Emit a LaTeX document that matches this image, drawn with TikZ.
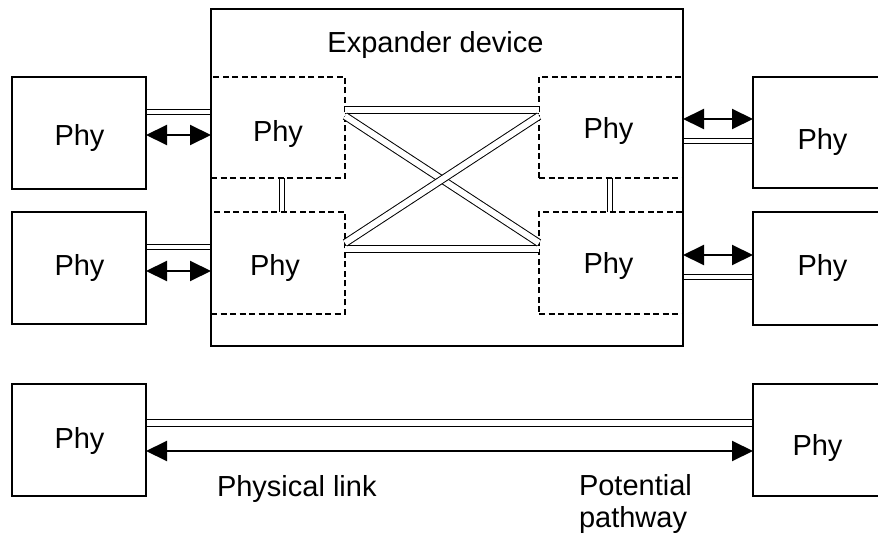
\documentclass[tikz,border=0pt]{standalone}
\usepackage{fontspec}
\setmainfont{Liberation Sans}
\usetikzlibrary{arrows.meta}
\pgfdeclarelayer{background}
\pgfsetlayers{background,main}
\begin{document}
\begin{tikzpicture}[x=1pt,y=-1pt,
  every node/.style={font=\fontsize{29}{33}\selectfont},
  phybox/.style={draw, line width=2pt, minimum width=134pt, minimum height=112pt, inner sep=0pt, outer sep=0pt},
  portbox/.style={draw, line width=2pt, dash pattern=on 6pt off 3.5pt, minimum width=#1, inner sep=0pt, outer sep=0pt},
  devbox/.style={draw, line width=2pt, minimum width=472pt, minimum height=337pt, inner sep=0pt, outer sep=0pt},
  txt/.style={inner sep=0pt, outer sep=0pt},
  dbl/.style={draw, line width=1pt, double=white, double distance=4pt},
  dblwide/.style={draw, line width=1pt, double=white, double distance=6pt},
  arr/.style={line width=2pt, {Triangle[length=21pt,width=20pt]}-{Triangle[length=21pt,width=20pt]}}
]
\clip (0,0) rectangle (878,537);

% expander device
\node[devbox] (E) at (447,177.5) {};
\node[txt, anchor=base] (title) at (435.5,53) {Expander device};

% phys inside expander
\node[portbox=134pt, minimum height=101pt, label={[xshift=0pt,yshift=-6.5pt]center:Phy}] (D1) at (278,127.5) {};
\node[portbox=134pt, minimum height=102pt, label={[xshift=-3pt,yshift=-5pt]center:Phy}] (D2) at (278,263) {};
\node[portbox=144pt, minimum height=101pt, label={[xshift=-2.5pt,yshift=-3.5pt]center:Phy}] (D3) at (611,127.5) {};
\node[portbox=144pt, minimum height=102pt, label={[xshift=-2.5pt,yshift=-3pt]center:Phy}] (D4) at (611,263) {};

% outer phys
\node[phybox, label={[xshift=0.5pt,yshift=-5pt]center:Phy}] (L1) at (79,133) {};
\node[phybox, label={[xshift=0.5pt,yshift=0pt]center:Phy}] (L2) at (79,268) {};
\node[phybox, minimum height=111pt, label={[xshift=2.5pt,yshift=-9.5pt]center:Phy}] (R1) at (820,132.5) {};
\node[phybox, minimum height=113pt, label={[xshift=2.5pt,yshift=0.5pt]center:Phy}] (R2) at (820,268.5) {};

% bottom legend phys
\node[phybox, label={[xshift=0.5pt,yshift=-1pt]center:Phy}] (B1) at (79,440) {};
\node[phybox, label={[xshift=-2.5pt,yshift=-8pt]center:Phy}] (B2) at (820,440) {};

% links to outer phys (behind the boxes)
\begin{pgfonlayer}{background}
\fill[white] (0,0) rectangle (878,537);
\draw[dbl] (L1.east |- 0,112) -- (D1.west |- 0,112);
\draw[dbl] (L2.east |- 0,247) -- (D2.west |- 0,247);
\draw[dbl] (D3.east |- 0,141) -- (R1.west |- 0,141);
\draw[dbl] (D4.east |- 0,277) -- (R2.west |- 0,277);
\draw[dbl] (D1.south -| 281.5,0) -- (D2.north -| 281.5,0);
\draw[dbl] (D3.south -| 609.5,0) -- (D4.north -| 609.5,0);
\draw[dblwide] (B1.east |- 0,423) -- (B2.west |- 0,423);
\end{pgfonlayer}

\draw[arr] (L1.east |- 0,135) -- (D1.west |- 0,135);
\draw[arr] (L2.east |- 0,271) -- (D2.west |- 0,271);
\draw[arr] (D3.east |- 0,119) -- (R1.west |- 0,119);
\draw[arr] (D4.east |- 0,255) -- (R2.west |- 0,255);

% internal crossbar
\draw[dblwide] (D1.east |- 0,110.5) -- (D3.west |- 0,110.5);
\draw[dblwide] (D2.east |- 0,249.5) -- (D4.west |- 0,249.5);
\draw[dblwide] (D1.east |- 0,116) -- (D4.west |- 0,243);
\draw[dblwide] (D2.east |- 0,243) -- (D3.west |- 0,116);

% legend
\draw[arr] (B1.east |- 0,451) -- (B2.west |- 0,451);
\node[txt, anchor=base west] (plink) at (217,496) {Physical link};
\node[txt, anchor=base west] (ppot) at (579,495) {Potential};
\node[txt, anchor=base west] (ppath) at (579,527.5) {pathway};
\end{tikzpicture}
\end{document}
